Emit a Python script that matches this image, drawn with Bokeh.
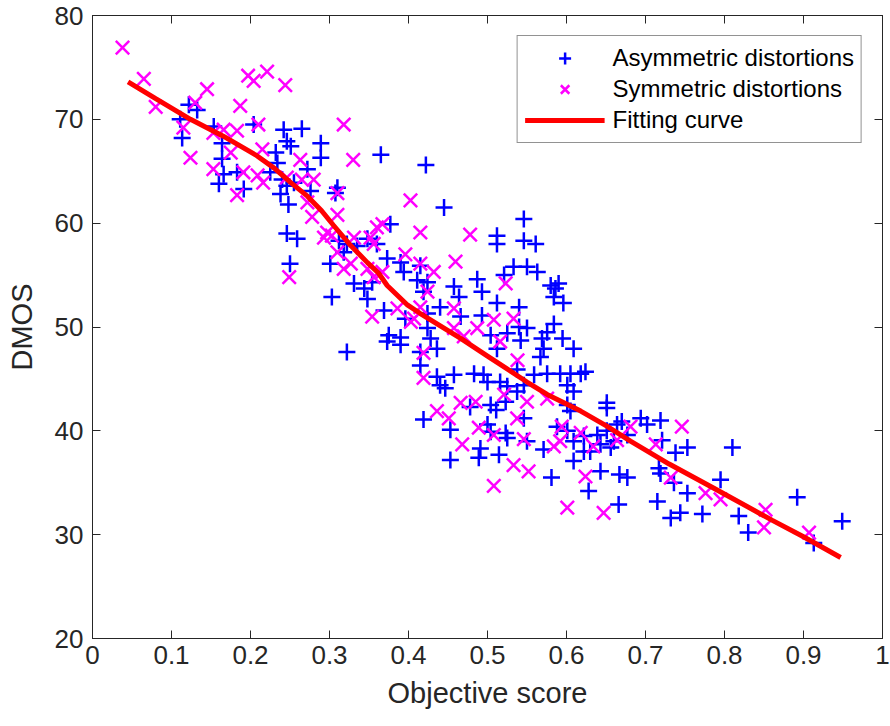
from bokeh.plotting import figure
from bokeh.models import Range1d, FixedTicker, LinearAxis, Legend, LegendItem
from bokeh.embed import file_html
from bokeh.resources import INLINE

# Asymmetric distortions (blue +)
asym_x = [0.122, 0.1325, 0.111, 0.1135, 0.1535, 0.164, 0.204, 0.242, 0.265, 0.246, 0.251, 0.232, 0.289, 0.289,
          0.272, 0.164, 0.166, 0.183, 0.160, 0.1915, 0.234, 0.225, 0.240, 0.246, 0.255, 0.238, 0.248, 0.31, 0.3075,
          0.276,
          0.246, 0.259, 0.25, 0.303, 0.322, 0.377, 0.445, 0.322, 0.335, 0.348, 0.36, 0.301, 0.331, 0.344, 0.348,
          0.354, 0.369, 0.373, 0.39, 0.394, 0.415, 0.411, 0.424, 0.419, 0.44, 0.375, 0.373, 0.39, 0.39, 0.428,
          0.436, 0.415, 0.415, 0.436,
          0.546, 0.512, 0.512, 0.546, 0.561, 0.4575, 0.464, 0.487, 0.493, 0.521, 0.533, 0.55, 0.563, 0.58, 0.586,
          0.584, 0.596, 0.396, 0.424, 0.424, 0.466, 0.512, 0.54, 0.493, 0.55, 0.504, 0.525, 0.542, 0.5755, 0.584,
          0.595, 0.609, 0.571, 0.567, 0.4575, 0.483, 0.495, 0.559, 0.5755, 0.592, 0.605, 0.618,
          0.44, 0.4465, 0.5, 0.516, 0.5375, 0.5375, 0.546, 0.601, 0.609, 0.601, 0.605, 0.651, 0.651, 0.419, 0.453,
          0.478, 0.504, 0.523, 0.5, 0.504, 0.523, 0.525, 0.546, 0.55, 0.491, 0.489, 0.453, 0.5145, 0.571, 0.588,
          0.609, 0.622, 0.63, 0.643, 0.656, 0.66, 0.664, 0.677, 0.643, 0.667, 0.677, 0.581, 0.628, 0.666, 0.622,
          0.639,
          0.694, 0.702, 0.719, 0.721, 0.738, 0.753, 0.81, 0.717, 0.719, 0.795, 0.753, 0.736, 0.744, 0.732, 0.772,
          0.818, 0.83, 0.892, 0.949, 0.913, 0.715,
          0.59, 0.54, 0.569, 0.512, 0.525, 0.511, 0.624, 0.67, 0.651, 0.312, 0.318, 0.365, 0.422, 0.609, 0.601]
asym_y = [71.4, 70.9, 70.0, 68.2, 69.3, 67.7, 69.5, 69.0, 69.1, 67.9, 67.4, 66.8, 67.7, 66.3,
          65.2, 66.2, 64.7, 64.9, 63.8, 63.3, 65.8, 64.9, 64.2, 63.6, 63.9, 62.8, 61.8, 63.4, 62.9,
          63.1,
          59.0, 58.5, 56.1, 52.9, 47.6, 59.9, 61.5, 58.0, 57.8, 58.5, 58.0, 56.1, 54.2, 53.7, 52.7,
          54.3, 51.6, 56.6, 56.2, 55.3, 55.9, 54.5, 54.3, 53.4, 51.9, 49.2, 48.6, 49.0, 48.3, 48.9,
          47.9, 47.6, 46.3, 45.2,
          60.4, 58.8, 58.0, 58.3, 58.0, 53.9, 52.9, 54.6, 53.4, 55.0, 55.8, 55.8, 55.3, 54.0, 53.7,
          52.9, 52.3, 50.8, 51.3, 49.9, 51.0, 52.3, 51.9, 51.1, 49.9, 49.2, 49.4, 48.7, 49.5, 50.3,
          48.9, 47.9, 47.9, 47.1, 45.4, 45.5, 45.4, 45.4, 45.5, 45.5, 45.5, 45.5,
          44.4, 44.1, 44.7, 44.7, 45.9, 43.8, 44.4, 44.4, 43.8, 42.5, 41.9, 42.7, 42.2, 41.1, 40.1,
          42.3, 42.5, 42.8, 40.6, 39.9, 39.8, 39.3, 41.2, 39.0, 38.3, 37.4, 37.2, 37.7, 38.2, 40.4,
          37.1, 38.0, 38.0, 38.7, 38.4, 39.0, 40.6, 39.6, 36.1, 35.8, 35.5, 35.5, 34.2, 32.9, 39.5,
          39.6,
          41.2, 40.6, 41.0, 39.1, 37.9, 38.4, 38.4, 36.4, 35.9, 35.3, 34.0, 35.0, 32.1, 31.6, 32.0,
          31.8, 30.2, 33.6, 31.3, 29.2, 33.2,
          54.2, 50.0, 48.9, 47.9, 44.3, 42.0, 45.7, 40.9, 40.0, 58.3, 57.2, 66.6, 65.6, 39.0, 40.0]

# Symmetric distortions (magenta x)
sym_x = [0.038, 0.065, 0.08, 0.145, 0.197, 0.204, 0.221, 0.244, 0.187, 0.130, 0.115, 0.124, 0.21, 0.183,
         0.166, 0.153, 0.175, 0.153, 0.215, 0.209, 0.216, 0.183, 0.263, 0.272, 0.278, 0.318, 0.31, 0.31,
         0.28, 0.191,
         0.249, 0.297, 0.303, 0.293, 0.4025, 0.415, 0.331, 0.352, 0.356, 0.36, 0.367, 0.31, 0.318, 0.327,
         0.348, 0.367, 0.356, 0.386, 0.354, 0.396, 0.415, 0.432, 0.424, 0.415, 0.407, 0.403, 0.419, 0.419,
         0.478, 0.4595, 0.523, 0.4575, 0.4575, 0.47, 0.487, 0.508, 0.533, 0.516, 0.538,
         0.521, 0.55, 0.5755, 0.466, 0.485, 0.436, 0.451, 0.5375, 0.489, 0.508, 0.468, 0.546, 0.594, 0.592,
         0.584, 0.618, 0.634, 0.664, 0.533, 0.552, 0.508, 0.601, 0.647, 0.624,
         0.681, 0.713, 0.746, 0.732, 0.776, 0.795, 0.852, 0.85, 0.907,
         0.246, 0.265, 0.33]
sym_y = [76.9, 73.9, 71.2, 72.9, 74.2, 73.7, 74.6, 73.3, 71.3, 71.6, 69.2, 66.3, 69.5, 68.9,
         69.0, 68.7, 66.8, 65.2, 67.1, 64.6, 63.9, 62.7, 66.1, 62.0, 60.6, 69.5, 62.9, 60.8,
         64.2, 64.9,
         54.8, 59.1, 58.8, 58.6, 62.2, 59.1, 58.6, 58.6, 58.0, 59.6, 59.9, 57.2, 55.6, 56.1,
         55.6, 55.3, 54.8, 51.8, 51.0, 57.0, 56.1, 55.3, 53.4, 51.9, 50.8, 50.5, 47.5, 45.1,
         58.9, 56.3, 54.2, 51.8, 49.9, 49.1, 49.9, 50.7, 50.8, 48.6, 46.8,
         43.5, 42.8, 43.1, 42.7, 42.8, 41.9, 41.2, 41.2, 40.3, 39.6, 38.7, 39.2, 40.4, 39.0,
         38.5, 39.8, 38.5, 39.1, 36.7, 36.1, 34.7, 32.6, 32.1, 35.6,
         40.4, 38.7, 40.4, 35.5, 34.0, 33.4, 32.4, 30.7, 30.2,
         64.4, 64.2, 66.1]

# Fitting curve (red)
fit_x = [0.045, 0.08, 0.124, 0.165, 0.208, 0.23, 0.251, 0.272, 0.29, 0.305, 0.325, 0.348, 0.362, 0.373,
         0.399, 0.415, 0.432, 0.466, 0.50, 0.55, 0.5755, 0.618, 0.65, 0.681, 0.73, 0.786, 0.86, 0.90, 0.947]
fit_y = [73.6, 72.0, 70.0, 68.4, 66.5, 65.3, 63.9, 62.6, 61.2, 59.8, 58.0, 56.2, 55.2, 54.0,
         52.1, 51.3, 50.5, 48.9, 47.2, 44.7, 43.5, 41.9, 40.5, 39.0, 36.8, 34.5, 31.4, 29.8, 27.8]

x_ticks = [0, 0.1, 0.2, 0.3, 0.4, 0.5, 0.6, 0.7, 0.8, 0.9, 1]
x_tick_labels = ["0", "0.1", "0.2", "0.3", "0.4", "0.5", "0.6", "0.7", "0.8", "0.9", "1"]
y_ticks = [20, 30, 40, 50, 60, 70, 80]

AX = "#262626"
FONT = "Liberation Sans"

p = figure(width=890, height=726, x_range=Range1d(0, 1), y_range=Range1d(20, 80),
           output_backend="svg", toolbar_location=None,
           min_border_left=92, min_border_right=8, min_border_top=15, min_border_bottom=88)
p.grid.visible = False
p.outline_line_color = AX
p.outline_line_width = 1
p.background_fill_color = "white"
p.border_fill_color = "white"

p.xaxis.ticker = FixedTicker(ticks=x_ticks)
p.xaxis.major_label_overrides = {t: l for t, l in zip(x_ticks, x_tick_labels)}
p.yaxis.ticker = FixedTicker(ticks=y_ticks)
p.xaxis.axis_label = "Objective score"
p.yaxis.axis_label = "DMOS"
for ax in (p.xaxis[0], p.yaxis[0]):
    ax.axis_line_color = AX
    ax.major_tick_line_color = AX
    ax.major_tick_in = 8
    ax.major_tick_out = 0
    ax.minor_tick_line_color = None
    ax.major_label_text_font = FONT
    ax.major_label_text_font_size = "26px"
    ax.major_label_text_color = AX
    ax.axis_label_text_font = FONT
    ax.axis_label_text_font_size = "29px"
    ax.axis_label_text_font_style = "normal"
    ax.axis_label_text_color = AX
p.xaxis.major_label_standoff = 7
p.xaxis.axis_label_standoff = 10
p.yaxis.major_label_standoff = 9
p.yaxis.axis_label_standoff = 14

top = LinearAxis(ticker=FixedTicker(ticks=x_ticks), major_label_text_font_size="0px",
                 major_label_standoff=0, major_tick_in=8, major_tick_out=0,
                 minor_tick_line_color=None, axis_line_color=AX, major_tick_line_color=AX)
top.major_label_overrides = {t: "" for t in x_ticks}
p.add_layout(top, "above")
right = LinearAxis(ticker=FixedTicker(ticks=y_ticks), major_label_text_font_size="0px",
                   major_label_standoff=0, major_tick_in=8, major_tick_out=0,
                   minor_tick_line_color=None, axis_line_color=AX, major_tick_line_color=AX)
right.major_label_overrides = {t: "" for t in y_ticks}
p.add_layout(right, "right")

r1 = p.scatter(asym_x, asym_y, marker="cross", size=17, line_color="#0000ff", line_width=2.5)
r2 = p.scatter(sym_x, sym_y, marker="x", size=19, line_color="#ff00ff", line_width=2.5)
r3 = p.line(fit_x, fit_y, line_color="#ff0000", line_width=5)

legend = Legend(items=[LegendItem(label="Asymmetric distortions", renderers=[r1]),
                       LegendItem(label="Symmetric distortions", renderers=[r2]),
                       LegendItem(label="Fitting curve", renderers=[r3])],
                location="top_right", margin=20, padding=7, spacing=1,
                glyph_width=80, glyph_height=30, label_height=30, label_standoff=8,
                label_text_font=FONT, label_text_font_size="24px", label_text_color="#000000",
                border_line_color=AX, border_line_width=1, background_fill_color="white",
                background_fill_alpha=1)
p.add_layout(legend)

open("out.html", "w").write(file_html(p, INLINE))
